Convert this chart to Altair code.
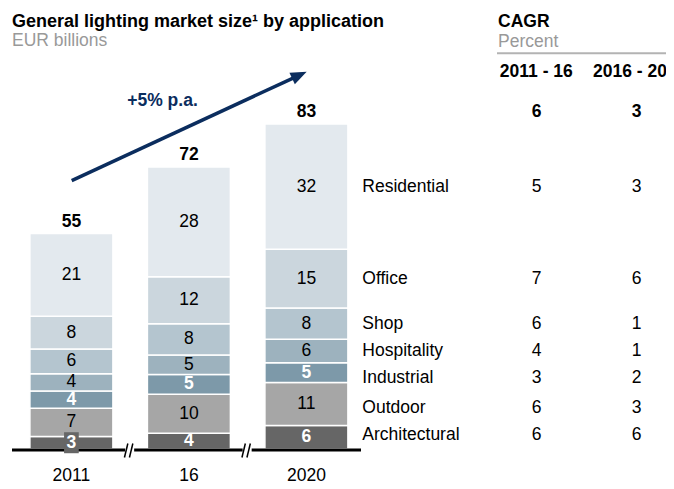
import altair as alt
import pandas as pd

FONT = "Liberation Sans"

# ---- data (bottom to top of each stack) ----
categories = ["Architectural", "Outdoor", "Industrial", "Hospitality", "Shop", "Office", "Residential"]
years = ["2011", "16", "2020"]
values_2011 = [3.2, 7.2, 4.4, 4.4, 6.3, 8.4, 21.1]
values_2016 = [4, 10, 5, 5, 8, 12, 28]
values_2020 = [6, 11, 5, 6, 8, 15, 32]
cagr_2011_16 = [6, 6, 3, 4, 6, 7, 5]
cagr_2016_20 = [6, 3, 2, 1, 1, 6, 3]
cagr_total = [6, 3]
cagr_headers = ["2011 - 16", "2016 - 20"]

# ---- styling ----
colors = ["#666666", "#a6a6a6", "#7d99a9", "#9db2be", "#b4c5cf", "#cbd6dd", "#e3e9ee"]
white_label_cats = ["Architectural", "Industrial"]
label_nudge_px = [-2, 4, 5, 0, 0, 0, 0]  # right-hand label spacing, in pixels

H = 476
Y_DOMAIN = [-8.94, 112.6]
PX_PER_UNIT = H / (Y_DOMAIN[1] - Y_DOMAIN[0])

rows = []
for i, (yr, vals) in enumerate(zip(years, [values_2011, values_2016, values_2020])):
    cum = 0
    for j, (cat, v) in enumerate(zip(categories, vals)):
        rows.append(dict(year=yr, pos=i, cat=cat, order=j, value=v, y0=cum, y1=cum + v,
                         mid=cum + v / 2, label=str(int(round(v)))))
        cum += v
df = pd.DataFrame(rows)
totals = df.groupby(["year", "pos"], as_index=False)["value"].sum()
totals["label"] = totals["value"].round().astype(int).astype(str)

last = df[df["year"] == years[-1]].copy()
last["c1"] = [str(v) for v in cagr_2011_16]
last["c2"] = [str(v) for v in cagr_2016_20]
last["label_y"] = last["mid"] - pd.Series(label_nudge_px, index=last.index) / PX_PER_UNIT
last_total = totals[totals["year"] == years[-1]].copy()
last_total["c1"] = str(cagr_total[0])
last_total["c2"] = str(cagr_total[1])

one = pd.DataFrame({"a": [0]})

xs = alt.Scale(domain=[-0.5396, 5.0604], nice=False, zero=False)
ys = alt.Scale(domain=Y_DOMAIN, nice=False, zero=False)


def X(f):
    return alt.X(f, type="quantitative", scale=xs, axis=None)


def Y(f):
    return alt.Y(f, type="quantitative", scale=ys, axis=None)


bars = alt.Chart(df).transform_calculate(
    xa="datum.pos - 0.3532", xb="datum.pos + 0.3532"
).mark_bar(stroke="white", strokeWidth=1.5).encode(
    x=X("xa"), x2="xb:Q", y=Y("y0"), y2="y1:Q",
    color=alt.Color("cat:N", scale=alt.Scale(domain=categories, range=colors), legend=None),
)

label_box = alt.Chart(df).transform_filter("datum.value < 3.5").mark_point(
    shape="M-0.7,-1L0.7,-1L0.7,1L-0.7,1Z", size=441, filled=True, color="#666666", opacity=1
).encode(x=X("pos"), y=Y("mid"))

dark_labels = alt.Chart(df[~df["cat"].isin(white_label_cats)]).mark_text(
    font=FONT, fontSize=17.5, color="#000000", baseline="middle"
).encode(x=X("pos"), y=Y("mid"), text="label:N")

white_labels = alt.Chart(df[df["cat"].isin(white_label_cats)]).mark_text(
    font=FONT, fontSize=17.5, fontWeight="bold", color="#ffffff", baseline="middle"
).encode(x=X("pos"), y=Y("mid"), text="label:N")

total_labels = alt.Chart(totals).mark_text(
    font=FONT, fontSize=17.5, fontWeight="bold", color="#000000", baseline="middle", dy=-12
).encode(x=X("pos"), y=Y("value"), text="label:N")

x_labels = alt.Chart(totals).mark_text(
    font=FONT, fontSize=17.5, color="#000000", baseline="middle"
).encode(x=X("pos"), y=alt.value(467.5), text="year:N")

axis_line = alt.Chart(one).mark_rule(color="#000000", strokeWidth=3).encode(
    x=alt.value(4), x2=alt.value(353), y=alt.value(442))

breaks = []
for i in range(len(years) - 1):
    c = 63.4 + 117.5 * (i + 0.5)
    breaks.append(alt.Chart(one).mark_rule(color="white", strokeWidth=6).encode(
        x=alt.value(c - 5), x2=alt.value(c + 4), y=alt.value(442)))
    for off in (-4.0, 1.0):
        breaks.append(alt.Chart(one).mark_rule(color="#000000", strokeWidth=1.5).encode(
            x=alt.value(c + off - 1.7), x2=alt.value(c + off + 1.7),
            y=alt.value(449.5), y2=alt.value(435.5)))

cat_labels = alt.Chart(last).mark_text(
    font=FONT, fontSize=17.5, color="#000000", align="left", baseline="middle"
).encode(x=alt.value(354.3), y=Y("label_y"), text="cat:N")

cagr_col1 = alt.Chart(last).mark_text(
    font=FONT, fontSize=17.5, color="#000000", align="center", baseline="middle"
).encode(x=alt.value(528.7), y=Y("label_y"), text="c1:N")
cagr_col2 = alt.Chart(last).mark_text(
    font=FONT, fontSize=17.5, color="#000000", align="center", baseline="middle"
).encode(x=alt.value(628.7), y=Y("label_y"), text="c2:N")

cagr_tot1 = alt.Chart(last_total).mark_text(
    font=FONT, fontSize=17.5, fontWeight="bold", color="#000000", align="center", baseline="middle", dy=-12
).encode(x=alt.value(528.7), y=Y("value"), text="c1:N")
cagr_tot2 = alt.Chart(last_total).mark_text(
    font=FONT, fontSize=17.5, fontWeight="bold", color="#000000", align="center", baseline="middle", dy=-12
).encode(x=alt.value(628.7), y=Y("value"), text="c2:N")


def txt(s, x, y, size=17.5, bold=False, color="#000000", align="left"):
    return alt.Chart(one).mark_text(
        text=s, font=FONT, fontSize=size, fontWeight="bold" if bold else "normal",
        color=color, align=align, baseline="alphabetic"
    ).encode(x=alt.value(x), y=alt.value(y))


title = txt("General lighting market size\u00b9 by application", 4, 18.5, size=18, bold=True)
subtitle = txt("EUR billions", 4, 38, color="#999999")
cagr_title = txt("CAGR", 490, 18.5, bold=True)
cagr_sub = txt("Percent", 490, 38.5, color="#999999")
hdr1 = txt(cagr_headers[0], 528.3, 69.3, bold=True, align="center")
hdr2 = txt(cagr_headers[1], 622, 69.3, bold=True, align="center")
gray_line = alt.Chart(one).mark_rule(color="#b3b3b3", strokeWidth=2).encode(
    x=alt.value(489), x2=alt.value(666), y=alt.value(45.3))

NAVY = "#0b2d5e"
arrow_line = alt.Chart(one).mark_rule(color=NAVY, strokeWidth=3.5).encode(
    x=alt.value(63.7), y=alt.value(172.7), x2=alt.value(287.8), y2=alt.value(68.8))
arrow_head = alt.Chart(one).mark_point(
    shape="M1,0L-1,-0.8L-1,0.8Z", size=256, filled=True, color=NAVY, opacity=1, angle=335.1
).encode(x=alt.value(291.4), y=alt.value(67.1))
growth = alt.Chart(one).mark_text(
    text="+5% p.a.", font=FONT, fontSize=17.5, fontWeight="bold", color=NAVY,
    align="center", baseline="middle"
).encode(x=alt.value(154.5), y=alt.value(93))

chart = alt.layer(
    bars, axis_line, *breaks, label_box, dark_labels, white_labels, total_labels, x_labels,
    cat_labels, cagr_col1, cagr_col2, cagr_tot1, cagr_tot2,
    title, subtitle, cagr_title, cagr_sub, hdr1, hdr2, gray_line,
    arrow_line, arrow_head, growth,
).properties(
    width=658, height=H, padding=0, autosize=alt.AutoSizeParams(type="none")
).configure_view(stroke=None)

chart.save("out.html", embed_options={"renderer": "svg", "actions": False})
